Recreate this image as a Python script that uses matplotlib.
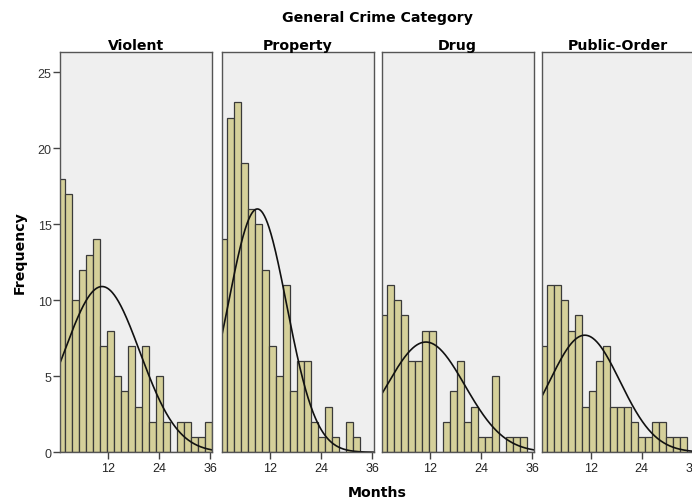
import numpy as np
import matplotlib
matplotlib.use("Agg")
import matplotlib.pyplot as plt

plt.rcParams['font.family'] = ['Liberation Sans', 'DejaVu Sans']

# months served, binned counts per crime category
categories = ["Violent", "Property", "Drug", "Public-Order"]
bin_edges = np.linspace(0.1, 36.4, 23)

violent = [18, 17, 10, 12, 13, 14, 7, 8, 5, 4, 7, 3, 7, 2, 5, 2, 0, 2, 2, 1, 1, 2]
property_ = [14, 22, 23, 19, 16, 15, 12, 7, 5, 11, 4, 6, 6, 2, 1, 3, 1, 0, 2, 1, 0, 0]
drug = [9, 11, 10, 9, 6, 6, 8, 8, 0, 2, 4, 6, 2, 3, 1, 1, 5, 0, 1, 1, 1, 0]
public_order = [7, 11, 11, 10, 8, 9, 3, 4, 6, 7, 3, 3, 3, 2, 1, 1, 2, 2, 1, 1, 1, 0]
counts = [violent, property_, drug, public_order]

# normal curve overlay: mean, sd and peak height per panel
curve_mean = [10.5, 9.0, 11.0, 10.6]
curve_sd = [8.9, 6.9, 9.2, 8.3]
curve_peak = [10.9, 16.0, 7.25, 7.7]

x_ticks = [12, 24, 36]
y_ticks = [0, 5, 10, 15, 20, 25]

W, H = 692, 502
fig = plt.figure(figsize=(W / 100, H / 100), dpi=100)

panel_left = [60, 221.7, 381.7, 542.3]
panel_w = 152
panel_top, panel_bottom = 53.3, 453.3

bar_color = "#d5d09a"
edge_color = "#3a3a3a"
widths = np.diff(bin_edges)

# heavier, wider face for the headings
head = dict(fontsize=10.2, fontweight="bold", family="DejaVu Sans")

for i, name in enumerate(categories):
    ax = fig.add_axes([panel_left[i] / W, (H - panel_bottom) / H,
                       panel_w / W, (panel_bottom - panel_top) / H])
    ax.set_facecolor("#efefef")
    ax.bar(bin_edges[:-1], counts[i], width=widths, align="edge",
           color=bar_color, edgecolor=edge_color, linewidth=0.9)
    xs = np.linspace(0.6, 36.4, 300)
    ys = curve_peak[i] * np.exp(-(xs - curve_mean[i]) ** 2 / (2 * curve_sd[i] ** 2))
    ax.plot(xs, ys, color="#111111", linewidth=1.2)
    ax.set_xlim(0.6, 36.4)
    ax.set_ylim(0, 26.3)
    ax.set_xticks(x_ticks)
    ax.tick_params(axis="x", length=5, width=1, color="#444444",
                   labelsize=9, labelcolor="#222222", pad=2)
    if i == 0:
        ax.set_yticks(y_ticks)
        ax.tick_params(axis="y", length=5, width=1, color="#444444",
                       labelsize=9, labelcolor="#333333", pad=1)
    else:
        ax.set_yticks([])
    for sp in ax.spines.values():
        sp.set_color("#555555")
        sp.set_linewidth(1.0)
    ax.set_title(name, pad=2, **head)

fig.text(377 / W, 1 - 18 / H, "General Crime Category", ha="center", va="center", **head)
fig.text(377 / W, 1 - 493 / H, "Months", ha="center", va="center", **head)
fig.text(20 / W, 1 - 253 / H, "Frequency", ha="center", va="center",
         rotation=90, **head)

fig.savefig("out.png", dpi=100)
